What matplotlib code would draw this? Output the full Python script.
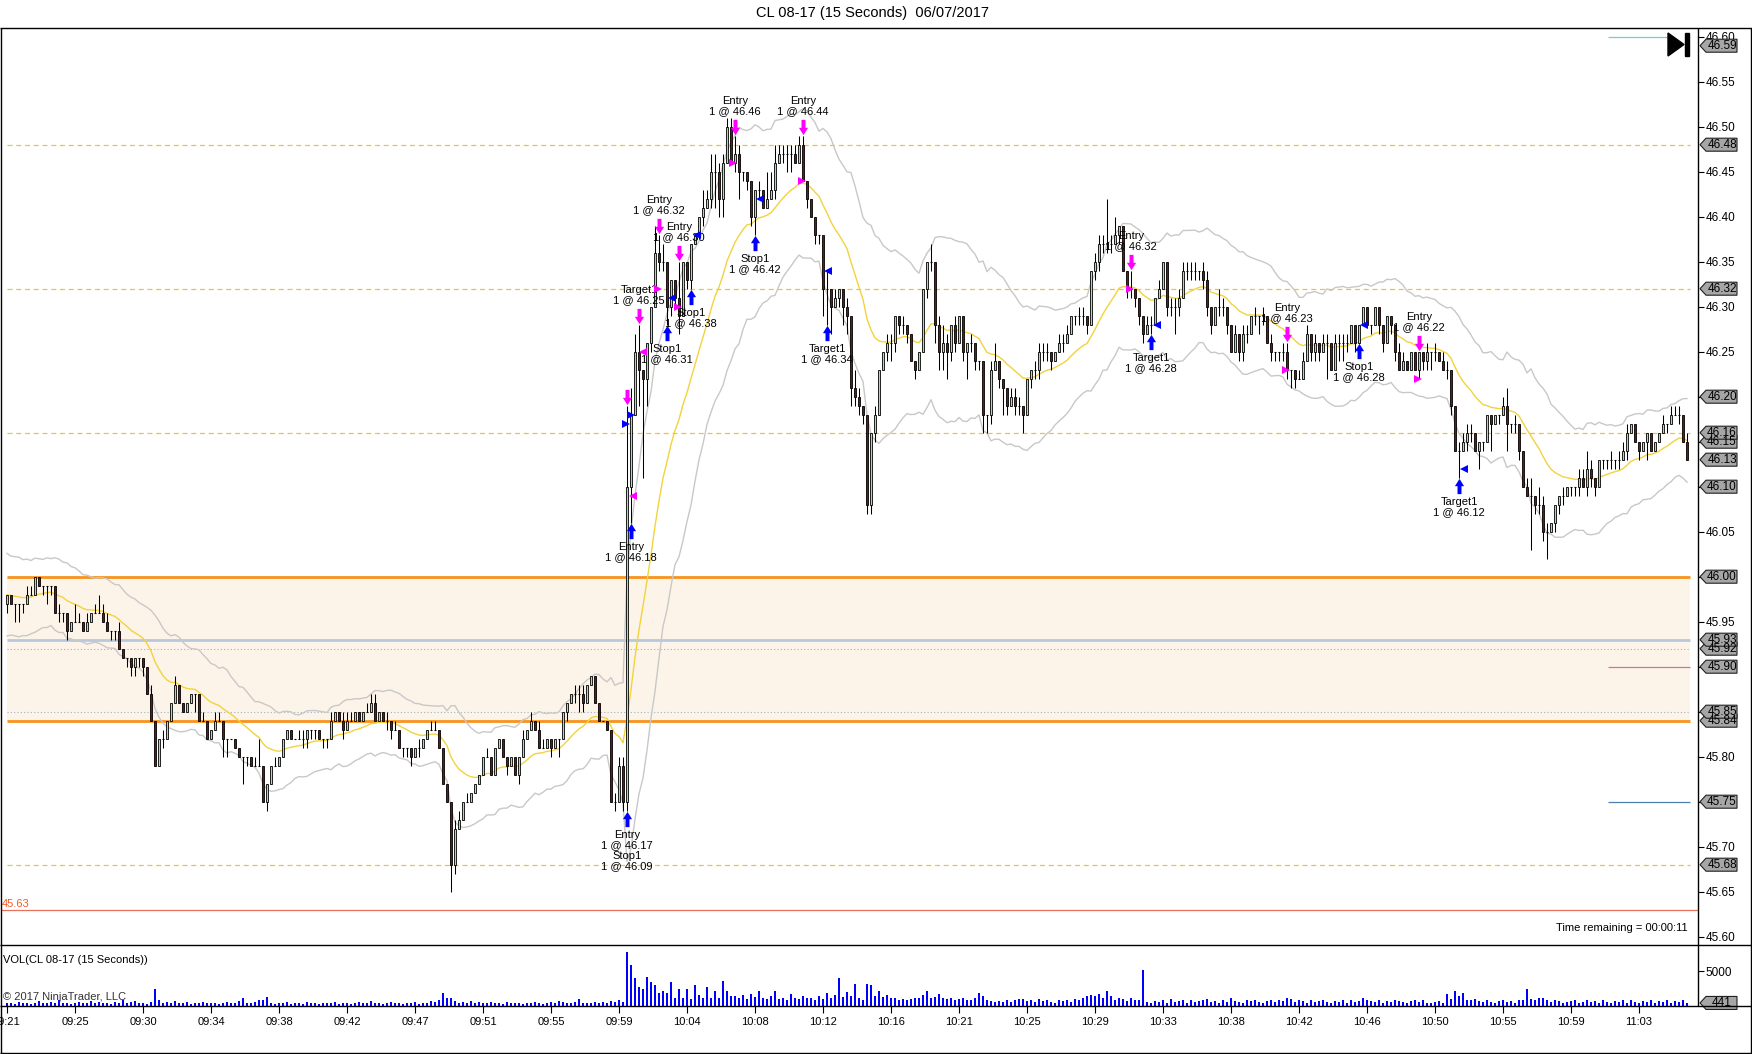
import numpy as np
import pandas as pd
import matplotlib
matplotlib.use("Agg")
import matplotlib.pyplot as plt
from matplotlib.transforms import blended_transform_factory, IdentityTransform
from matplotlib.patches import Polygon
from matplotlib.path import Path

plt.rcParams['font.family'] = ['Liberation Sans', 'DejaVu Sans']

# ---------------- data (prices in cents above 45.00) ----------------
closes_c = [
 98,97,97,97,97,98,98,100,99,99,99,99,96,96,96,94,95,95,95,94,
 95,96,96,96,95,94,94,94,92,91,91,90,91,91,90,87,84,79,82,82,
 84,86,88,86,85,86,87,87,84,84,82,83,84,84,82,82,82,81,80,80,
 80,79,79,79,75,77,79,79,80,82,83,82,82,82,82,83,83,83,82,82,
 82,84,85,84,83,84,84,85,84,85,85,86,84,85,84,84,83,83,81,81,
 81,80,81,81,82,83,83,83,81,77,75,68,72,73,75,75,76,77,78,80,
 80,78,81,82,80,79,80,78,80,82,83,84,83,81,81,82,81,82,82,85,
 86,87,87,87,86,88,89,86,84,84,83,75,75,79,75,110,118,125,123,122,
 126,130,136,135,135,130,133,131,129,135,133,137,138,140,141,142,145,145,142,146,
 150,146,147,145,145,144,140,143,143,141,142,143,146,147,147,147,147,146,148,144,
 142,140,138,138,132,132,130,131,132,130,129,121,120,119,118,108,116,118,123,125,
 126,126,129,128,128,127,124,123,125,132,135,135,128,125,126,125,128,126,129,125,
 126,126,124,124,118,118,123,124,122,121,119,120,119,119,118,122,123,123,125,125,
 125,124,125,126,126,127,129,129,129,129,128,134,135,137,137,137,137,138,139,134,
 132,132,131,129,127,128,128,131,132,135,130,130,130,131,134,134,134,134,134,133,
 130,128,130,130,130,128,125,127,125,127,127,129,129,129,129,126,125,125,125,125,
 123,123,122,122,124,127,125,126,125,126,126,123,126,126,126,126,128,126,128,130,
 128,128,130,128,126,129,128,125,123,124,123,125,123,125,124,125,125,125,124,123,
 123,119,114,114,115,116,116,114,115,115,118,117,118,118,119,117,117,117,114,110,
 109,109,108,108,105,105,106,108,109,109,110,110,110,111,110,112,111,110,113,113,
 113,113,113,113,114,116,117,115,114,115,116,114,115,116,117,117,118,118,118,115,113]

highs_c = [
 98,98,97,97,97,99,99,100,100,99,99,99,99,97,96,96,95,97,96,95,
 96,96,97,98,97,96,94,94,95,92,91,91,91,91,91,89,88,84,82,83,
 84,86,89,88,86,86,87,87,87,85,84,83,85,85,84,82,82,82,81,80,
 80,80,80,82,79,77,79,80,80,82,83,83,82,83,83,83,83,83,83,82,
 82,85,85,85,85,85,85,85,85,85,86,87,87,85,85,85,84,84,83,81,
 81,81,81,82,82,83,84,84,83,81,76,75,73,74,75,76,76,77,78,80,
 81,80,81,82,82,80,80,80,80,83,83,85,84,84,82,82,82,82,82,85,
 86,87,88,88,88,88,89,89,86,84,84,83,76,80,80,119,121,127,128,123,
 126,130,139,138,137,135,133,133,135,135,135,137,138,140,143,143,147,147,146,147,
 151,151,149,148,145,145,144,143,144,143,145,145,148,148,148,148,148,148,149,149,
 144,142,140,138,138,134,132,132,132,132,131,129,123,121,119,118,116,119,123,125,
 127,127,129,129,129,128,127,124,125,132,135,137,135,129,128,127,128,129,129,129,
 126,127,126,124,124,118,124,126,124,122,121,121,121,120,119,122,123,124,126,126,
 126,125,125,127,127,128,129,129,130,130,129,134,136,138,138,142,138,140,139,139,
 134,134,132,131,129,129,129,131,133,135,135,131,131,132,135,135,135,135,134,135,
 134,129,130,132,131,130,128,128,127,128,128,129,130,129,130,129,127,125,125,126,
 126,123,123,123,125,128,127,127,126,127,127,126,127,127,127,127,128,128,128,130,
 130,128,130,130,128,129,129,128,126,125,124,125,125,125,125,126,125,126,125,125,
 124,123,119,115,116,117,117,116,115,115,118,118,118,118,120,121,117,118,117,114,
 111,111,109,110,109,106,106,108,109,110,110,110,110,112,112,114,113,111,113,113,
 113,114,113,114,115,117,117,117,115,115,116,116,115,116,118,117,119,119,119,118,116]

lows_c = [
 96,97,95,95,96,97,98,98,99,98,97,98,96,95,95,93,94,95,95,94,
 94,95,96,96,95,94,93,93,92,91,90,89,89,90,89,87,84,79,79,81,
 82,84,86,86,85,85,86,85,84,84,82,82,83,84,80,80,82,81,80,77,
 79,79,79,79,75,74,78,79,79,80,82,82,82,82,81,81,82,82,82,81,
 81,82,84,84,82,83,84,84,84,84,85,85,84,84,84,83,82,83,81,80,
 80,79,80,80,81,82,83,83,81,77,75,65,67,72,73,75,75,76,77,78,
 80,78,78,81,80,78,79,78,77,80,82,83,83,81,81,81,80,81,80,82,
 84,86,86,85,85,86,88,86,84,84,83,75,74,75,74,74,106,118,119,111,
 119,125,130,134,134,128,129,130,127,129,132,132,137,138,139,141,141,141,140,140,
 146,146,145,142,144,143,139,138,142,141,141,142,142,146,146,145,145,146,146,144,
 141,140,137,137,129,128,127,130,130,128,127,119,119,118,117,107,107,115,118,123,
 124,124,125,127,127,126,124,122,123,125,131,134,126,123,123,122,124,125,126,124,
 122,125,123,123,116,116,117,123,121,118,118,119,118,118,116,118,121,122,122,124,
 124,123,124,125,125,126,127,128,128,128,127,128,133,134,136,136,136,137,137,134,
 131,131,130,128,126,127,127,128,131,132,129,129,127,129,131,133,133,133,133,132,
 129,127,128,129,129,127,125,125,124,124,126,127,128,127,128,126,124,124,124,124,
 122,121,121,122,122,124,124,124,124,125,122,123,125,124,124,125,126,125,126,128,
 128,127,128,127,125,126,127,124,123,123,123,123,123,122,123,123,123,124,124,123,
 122,118,114,111,114,114,115,114,112,114,115,114,117,117,118,114,116,116,113,110,
 109,103,107,107,104,102,105,105,107,108,109,109,109,109,110,109,110,109,110,112,
 112,112,112,112,114,113,116,115,113,114,113,114,114,115,116,116,117,118,117,115,113]

first_open_c = 97

volume_hundreds = [
 4,5,3,6,4,5,3,4,7,5,4,6,5,8,4,5,3,4,6,5,
 4,7,5,6,4,5,3,6,5,9,4,6,7,4,5,3,6,24,8,5,
 6,4,7,5,4,6,3,5,4,6,5,4,5,3,4,6,5,4,7,12,
 5,4,6,8,8,13,4,3,5,4,6,3,5,4,3,6,4,5,3,4,
 5,4,6,3,5,4,3,5,6,4,5,7,4,5,3,4,6,5,4,3,
 5,4,6,3,5,4,7,6,9,19,12,12,7,5,6,4,7,5,6,4,
 5,6,4,5,3,6,4,5,4,3,5,4,6,5,3,4,6,5,7,6,
 5,4,6,10,5,4,5,6,5,6,5,7,6,8,6,78,59,40,27,24,
 42,34,31,19,22,19,35,12,24,12,24,10,30,16,12,27,12,21,12,36,
 21,14,14,11,16,10,18,13,22,12,10,14,22,10,12,9,18,12,10,14,
 11,12,9,14,10,19,12,16,40,13,20,14,32,12,8,32,31,14,22,13,
 16,12,11,9,10,9,10,12,11,16,21,12,13,18,11,10,12,9,10,11,
 8,9,12,19,14,8,7,6,7,6,9,6,8,10,10,7,9,6,10,7,
 8,6,5,9,7,8,6,10,9,12,15,16,15,18,12,21,14,8,12,10,
 7,11,9,8,52,6,5,7,6,9,5,10,6,7,8,5,9,6,7,8,
 10,6,7,5,8,6,11,7,6,5,8,7,9,6,5,7,8,6,9,7,
 11,10,6,8,7,5,9,6,7,8,6,5,7,6,8,5,9,6,7,12,
 8,7,6,9,5,7,6,8,7,6,5,7,9,6,8,5,4,6,7,5,
 18,10,21,14,19,9,8,10,7,6,9,6,5,7,8,6,7,5,9,8,
 24,10,8,11,12,9,6,8,7,5,6,7,8,5,6,9,6,7,5,8,
 6,5,7,6,8,5,9,6,5,7,6,8,5,7,6,9,5,7,6,8,4.41]

time_labels = ["09:21","09:25","09:30","09:34","09:38","09:42","09:47","09:51",
               "09:55","09:59","10:04","10:08","10:12","10:16","10:21","10:25",
               "10:29","10:33","10:38","10:42","10:46","10:50","10:55","10:59","11:03"]
bars_per_label = 17

dashed_levels = [46.48, 46.32, 46.16, 45.68]
zone_low, zone_high = 45.84, 46.00
steel_level = 45.93
dotted_levels = [45.92, 45.85]
short_pink_level = 45.90
short_blue_level = 45.75
short_cyan_level = 46.60
red_level = 45.63

# tags drawn in order (later on top)
price_tags = [46.59, 46.48, 46.32, 46.20, 46.15, 46.16, 46.13, 46.10, 46.00,
              45.92, 45.93, 45.90, 45.84, 45.85, 45.75, 45.68]
volume_tag = 441

# trade arrows: (bar, side, label)
trades = [
    (155, 'buy', "Entry\n1 @ 46.17\nStop1\n1 @ 46.09"),
    (156, 'buy', "Entry\n1 @ 46.18"),
    (155, 'sell', ""),
    (158, 'sell', "Target1\n1 @ 46.25"),
    (165, 'buy', "Stop1\n1 @ 46.31"),
    (163, 'sell', "Entry\n1 @ 46.32"),
    (168, 'sell', "Entry\n1 @ 46.30"),
    (171, 'buy', "Stop1\n1 @ 46.38"),
    (182, 'sell', "Entry\n1 @ 46.46"),
    (187, 'buy', "Stop1\n1 @ 46.42"),
    (199, 'sell', "Entry\n1 @ 46.44"),
    (205, 'buy', "Target1\n1 @ 46.34"),
    (281, 'sell', "Entry\n1 @ 46.32"),
    (286, 'buy', "Target1\n1 @ 46.28"),
    (320, 'sell', "Entry\n1 @ 46.23"),
    (338, 'buy', "Stop1\n1 @ 46.28"),
    (353, 'sell', "Entry\n1 @ 46.22"),
    (363, 'buy', "Target1\n1 @ 46.12"),
]
# execution triangles: (bar position, price, colour, kind)
fills = [
    (154.7, 46.17, 'blue', 'entry'), (155.9, 46.18, 'blue', 'entry'),
    (156.5, 46.09, 'magenta', 'exit'), (159.0, 46.25, 'magenta', 'exit'),
    (162.8, 46.32, 'magenta', 'entry'), (166.2, 46.31, 'blue', 'exit'),
    (167.8, 46.30, 'magenta', 'entry'), (172.4, 46.38, 'blue', 'exit'),
    (181.5, 46.46, 'magenta', 'entry'), (188.2, 46.42, 'blue', 'exit'),
    (198.7, 46.44, 'magenta', 'entry'), (205.3, 46.34, 'blue', 'exit'),
    (280.8, 46.32, 'magenta', 'entry'), (287.4, 46.28, 'blue', 'exit'),
    (319.75, 46.23, 'magenta', 'entry'), (339.3, 46.28, 'blue', 'exit'),
    (352.8, 46.22, 'magenta', 'entry'), (364.25, 46.12, 'blue', 'exit'),
]

# ---------------- derived arrays ----------------
closes = 45 + np.array(closes_c) / 100.0
opens = 45 + np.array([first_open_c] + closes_c[:-1]) / 100.0
highs = 45 + np.array(highs_c) / 100.0
lows = 45 + np.array(lows_c) / 100.0
highs = np.maximum(highs, np.maximum(opens, closes))
lows = np.minimum(lows, np.minimum(opens, closes))
volumes = np.array(volume_hundreds) * 100.0
n = len(closes)
x = np.arange(n)

mid = pd.Series(closes).ewm(span=20, adjust=False).mean().values
atr = pd.Series(highs - lows).ewm(span=20, adjust=False).mean().values
upper = mid + 2.3 * atr
lower = mid - 2.3 * atr

# ---------------- figure layout (pixels) ----------------
W, H = 1752, 1054
P_TOP, P_BOT, V_BOT, AX_L, AX_R = 28, 945, 1006, 1, 1698
fig = plt.figure(figsize=(W / 100, H / 100), dpi=100)
fig.patch.set_facecolor('white')
ax = fig.add_axes([AX_L / W, 1 - P_BOT / H, (AX_R - AX_L) / W, (P_BOT - P_TOP) / H])
axv = fig.add_axes([AX_L / W, 1 - V_BOT / H, (AX_R - AX_L) / W, (V_BOT - P_BOT) / H])
ov = fig.add_axes([0, 0, 1, 1])
ov.set_xlim(0, W); ov.set_ylim(H, 0); ov.axis('off')
ov.set_zorder(10); ov.patch.set_visible(False)

y_top = 46.60 + 8.7 / 900
y_bot = y_top - (P_BOT - P_TOP) / 900
ax.set_ylim(y_bot, y_top)
ax.set_xlim(-1.5, 422.75)
axv.set_xlim(-1.5, 422.75)
axv.set_ylim(0, 8800)
dpp = (y_top - y_bot) / (P_BOT - P_TOP)          # price per pixel
vpp = 8800 / (V_BOT - P_BOT)                      # volume per pixel

for a in (ax, axv):
    for s in a.spines.values():
        s.set_visible(False)
    a.set_facecolor('white')

line_end = 420.75
short_start = 400.25

# zone and levels
ax.fill_between([0, line_end], zone_low, zone_high, color='#FDF4E9', lw=0, zorder=1)
ax.hlines(dashed_levels, 0, line_end, colors='#F2C230', linestyles=(0, (4, 3)), lw=0.9, zorder=2)
ax.hlines([zone_low, zone_high], 0, line_end, colors='#F7931E', lw=2.0, zorder=2)
ax.hlines(steel_level, 0, line_end, colors='#B9C9DD', lw=2.0, zorder=2)
ax.hlines(dotted_levels, 0, line_end, colors='#9DB2C6', linestyles=(0, (1, 2)), lw=0.8, zorder=2)
ax.hlines(short_pink_level, short_start, line_end, colors='#CF6FA8', lw=0.9, zorder=2)
ax.hlines(short_blue_level, short_start, line_end, colors='#4F7FAF', lw=0.9, zorder=2)
ax.hlines(short_cyan_level, short_start, 415.25, colors='#7CC7D6', lw=0.9, zorder=2)
ax.axhline(red_level, color='#E5715F', lw=0.9, zorder=2)

# indicators
ax.plot(x, upper, color='#C8C8C8', lw=1.0, zorder=3)
ax.plot(x, lower, color='#C8C8C8', lw=1.0, zorder=3)
ax.plot(x, mid, color='#F2D33C', lw=1.0, zorder=3)

# candles
ax.vlines(x, lows, highs, color='black', lw=0.75, zorder=4)
up = closes > opens
dn = closes < opens
dj = closes == opens
bw = 0.72
ax.bar(x[up], (closes - opens)[up], bottom=opens[up], width=bw, color='#AEDBAE',
       edgecolor='black', lw=0.6, zorder=5)
ax.bar(x[dn], (opens - closes)[dn], bottom=closes[dn], width=bw, color='#8B0A0A',
       edgecolor='black', lw=0.6, zorder=5)
ax.hlines(closes[dj], x[dj] - bw / 2, x[dj] + bw / 2, color='black', lw=0.8, zorder=5)

# trade arrows
up_path = Path([(0, 0.5), (0.3, 0.02), (0.13, 0.02), (0.13, -0.5), (-0.13, -0.5),
                (-0.13, 0.02), (-0.3, 0.02), (0, 0.5)], closed=True)
dn_path = Path([(0, -0.5), (0.3, -0.02), (0.13, -0.02), (0.13, 0.5), (-0.13, 0.5),
                (-0.13, -0.02), (-0.3, -0.02), (0, -0.5)], closed=True)
arrow_pt = 11.0
arrow_px = arrow_pt * 100 / 72
for b, side, label in trades:
    if side == 'buy':
        yc = lows[b] - (arrow_px / 2 + 1) * dpp
        ax.plot([b], [yc], marker=up_path, markersize=arrow_pt, color='#0000FF',
                markeredgewidth=0, zorder=7, clip_on=False)
        if label:
            ax.text(b, lows[b] - (arrow_px + 4) * dpp, label, ha='center', va='top',
                    fontsize=8, linespacing=1.05, zorder=8)
    else:
        yc = highs[b] + (arrow_px / 2 + 1) * dpp
        ax.plot([b], [yc], marker=dn_path, markersize=arrow_pt, color='#FF00FF',
                markeredgewidth=0, zorder=7, clip_on=False)
        if label:
            ax.text(b, highs[b] + (arrow_px + 4) * dpp, label, ha='center', va='bottom',
                    fontsize=8, linespacing=1.05, zorder=8)

for pos, price, col, kind in fills:
    c = '#0000FF' if col == 'blue' else '#FF00FF'
    ax.plot([pos], [price], marker='>' if kind == 'entry' else '<', markersize=5.5,
            color=c, markeredgewidth=0, zorder=8)

# price axis ticks
ticks = np.round(np.arange(45.60, 46.6001, 0.05), 2)
ax.set_yticks(ticks)
ax.set_yticklabels([f"{t:.2f}" for t in ticks])
ax.yaxis.set_ticks_position('right')
ax.tick_params(axis='y', direction='out', length=4, width=0.8, pad=1.5, labelsize=8.5,
               right=True, left=False, labelright=True, labelleft=False)
ax.set_xticks([])

trans_p = blended_transform_factory(IdentityTransform(), ax.transData)
trans_v = blended_transform_factory(IdentityTransform(), axv.transData)

def draw_tag(axis, trans, y, text, per_px):
    hh = 6.5 * per_px
    pts = [(1700, y), (1706, y + hh), (1737, y + hh), (1737, y - hh), (1706, y - hh)]
    axis.add_patch(Polygon(pts, closed=True, fc='#A6A6A6', ec='#202020', lw=0.8,
                           transform=trans, clip_on=False, zorder=20))
    axis.text(1722, y, text, transform=trans, ha='center', va='center', fontsize=8.5,
              clip_on=False, zorder=21)

for p in price_tags:
    draw_tag(ax, trans_p, p, f"{p:.2f}", dpp)

ax.text(2, red_level + 1 * dpp, f"{red_level:.2f}", transform=trans_p, ha='left',
        va='bottom', fontsize=8, color='#F05A28', zorder=9)

# volume panel
axv.bar(x, volumes, width=0.5, color='#0000FF', lw=0, zorder=3)
axv.set_yticks([5000])
axv.set_yticklabels(["5000"])
axv.tick_params(axis='y', direction='out', length=4, width=0.8, pad=1.5, labelsize=8.5,
                right=True, left=False, labelright=True, labelleft=False)
draw_tag(axv, trans_v, volume_tag, f"{volume_tag}", vpp)
tick_pos = [k * bars_per_label for k in range(len(time_labels))]
axv.set_xticks(tick_pos)
axv.set_xticklabels(time_labels)
axv.tick_params(axis='x', direction='out', length=5, width=0.8, pad=3, labelsize=8)

# frames and texts (pixel overlay)
k = dict(color='black', lw=1.0, solid_capstyle='butt')
ov.plot([0, W], [P_TOP, P_TOP], **k)
ov.plot([0, W], [P_BOT, P_BOT], **k)
ov.plot([0, W], [V_BOT, V_BOT], **k)
ov.plot([0, W], [H - 1, H - 1], **k)
ov.plot([0.5, 0.5], [P_TOP, H - 1], **k)
ov.plot([W - 1, W - 1], [P_TOP, H - 1], **k)
ov.plot([AX_R, AX_R], [P_TOP, V_BOT], **k)
ov.add_patch(Polygon([(1668, 33), (1668, 56), (1684, 44.5)], closed=True, fc='black', ec='black'))
ov.add_patch(Polygon([(1685, 33), (1689, 33), (1689, 56), (1685, 56)], closed=True, fc='black', ec='black'))

ov.text(872, 13, "CL 08-17 (15 Seconds)  06/07/2017", ha='center', va='center', fontsize=10.5)
ov.text(1688, 928, "Time remaining = 00:00:11", ha='right', va='center', fontsize=8)
ov.text(3, 960, "VOL(CL 08-17 (15 Seconds))", ha='left', va='center', fontsize=8)
ov.text(3, 997, "\u00a9 2017 NinjaTrader, LLC", ha='left', va='center', fontsize=8, color='#333333')

fig.savefig("out.png", dpi=100)
